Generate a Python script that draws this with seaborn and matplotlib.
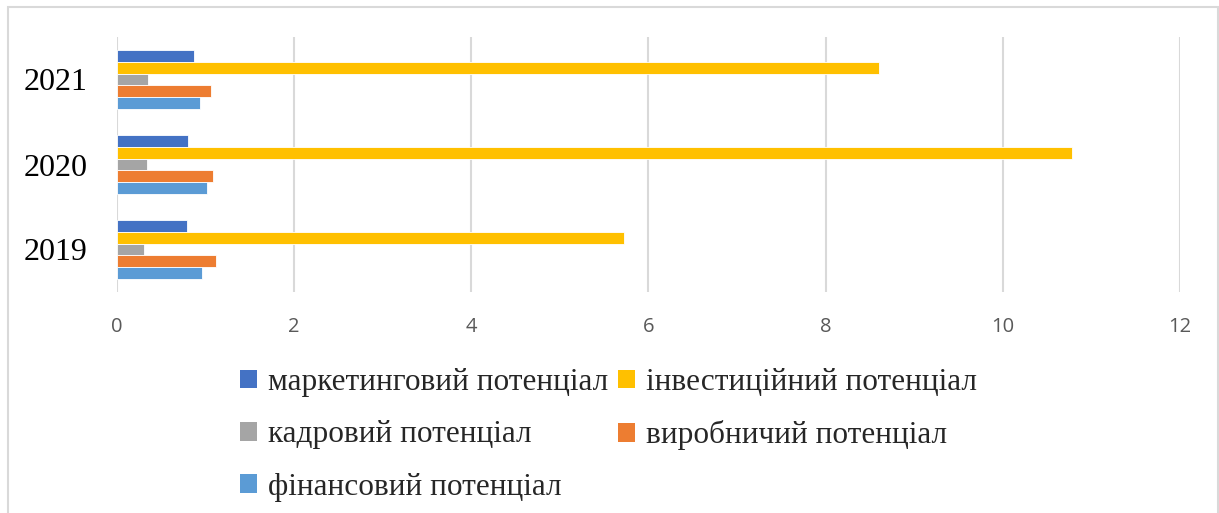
import matplotlib
matplotlib.use("Agg")
import matplotlib.pyplot as plt
import seaborn as sns
import pandas as pd
from matplotlib.patches import Rectangle, Patch

years = ["2021", "2020", "2019"]
series = ["маркетинговий потенціал", "інвестиційний потенціал", "кадровий потенціал",
          "виробничий потенціал", "фінансовий потенціал"]
marketing = [0.87, 0.81, 0.80]
investment = [8.60, 10.78, 5.73]
personnel = [0.35, 0.34, 0.31]
production = [1.07, 1.09, 1.12]
financial = [0.94, 1.02, 0.97]
xticks = [0, 2, 4, 6, 8, 10, 12]

colors = ["#4472C4", "#FFC000", "#A5A5A5", "#ED7D31", "#5B9BD5"]

values = [marketing, investment, personnel, production, financial]
rows = []
for s, vals in zip(series, values):
    for y, v in zip(years, vals):
        rows.append({"year": y, "series": s, "value": v})
df = pd.DataFrame(rows)

sns.set_theme(style="white")
plt.rcParams['font.family'] = ['Liberation Serif', 'DejaVu Serif']

fig = plt.figure(figsize=(12.19, 5.13), dpi=100)
ax = fig.add_axes([116.5 / 1219, 1 - 292 / 513, (1180 - 116.5) / 1219, 255 / 513])

sns.barplot(data=df, y="year", x="value", hue="series", order=years, hue_order=series,
            palette=colors, orient="h", width=0.7, ax=ax, legend=False,
            edgecolor="white", linewidth=0.6, saturation=1)

ax.set_xlim(0, 12)
ax.set_xticks(xticks)
ax.set_xticklabels([str(t) for t in xticks], fontfamily="Open Sans", fontsize=14.5, color="#595959")
ax.set_yticklabels(years, fontsize=23, color="black")
ax.set_xlabel("")
ax.set_ylabel("")
ax.tick_params(axis="x", length=0, pad=18)
ax.tick_params(axis="y", length=0, pad=21)
ax.grid(axis="x", color="#D9D9D9", linewidth=1.5)
ax.set_axisbelow(True)
for sp in ax.spines.values():
    sp.set_visible(False)

handles = [Patch(facecolor=c, edgecolor="none") for c in colors]
order = [0, 2, 4, 1, 3]
leg = fig.legend([handles[i] for i in order], [series[i] for i in order], ncol=2,
                 loc="upper left", bbox_to_anchor=(240 / 1219, 1 - 368 / 513),
                 frameon=False, fontsize=22.5, handlelength=0.55, handleheight=0.55,
                 handletextpad=0.35, columnspacing=0.3, labelspacing=0.75,
                 borderaxespad=0, borderpad=0)

fig.patches.append(Rectangle((8 / 1219, -0.05), 1210 / 1219, 1.05 - 7 / 513,
                             transform=fig.transFigure, fill=False,
                             edgecolor="#D9D9D9", linewidth=1.5))

fig.savefig("out.png", dpi=100)
